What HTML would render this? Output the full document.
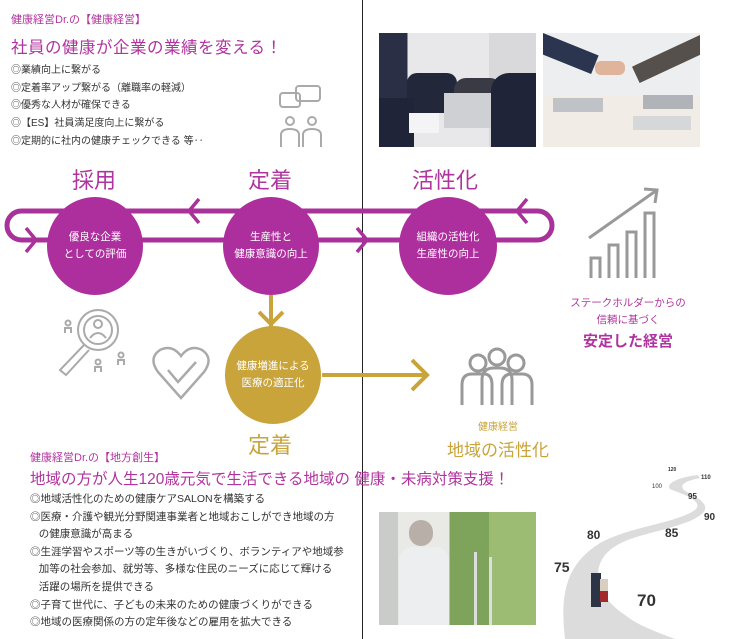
<!DOCTYPE html>
<html><head><meta charset="utf-8"><style>
*{margin:0;padding:0;box-sizing:border-box}
body{width:732px;height:639px;background:#fff;position:relative;overflow:hidden;font-family:"Liberation Sans","Noto Sans CJK JP",sans-serif}
.a{position:absolute;white-space:nowrap}
.p{color:#b0349f}
.g{color:#c9a43a}
.li{font-size:10px;color:#333;line-height:17.7px}
.li2{font-size:10.5px;color:#333;line-height:17.6px}
</style></head><body>
<div class="a" style="left:362px;top:0;width:1px;height:639px;background:#222"></div>

<div class="a p" style="left:11px;top:11px;font-size:11px">健康経営Dr.の【健康経営】</div>
<div class="a p" style="left:11px;top:34px;font-size:16.5px;letter-spacing:0.5px">社員の健康が企業の業績を変える！</div>
<div class="a li" style="left:11px;top:62px">◎業績向上に繋がる<br>◎定着率アップ繋がる（離職率の軽減）<br>◎優秀な人材が確保できる<br>◎【ES】社員満足度向上に繋がる<br>◎定期的に社内の健康チェックできる 等‥</div>

<!-- photos -->
<div class="a" style="left:379px;top:33px;width:157px;height:114px;background:linear-gradient(90deg,#2a2f45 0 18%,#e8e8ea 18% 70%,#d9d9dc 70%);overflow:hidden">
 <div class="a" style="left:28px;top:40px;width:50px;height:40px;background:#23273a;border-radius:10px 10px 0 0"></div>
 <div class="a" style="left:75px;top:45px;width:48px;height:45px;background:#3a3a44;border-radius:12px 12px 0 0"></div>
 <div class="a" style="left:65px;top:60px;width:55px;height:35px;background:#cfd0d4"></div>
 <div class="a" style="left:112px;top:40px;width:45px;height:74px;background:#1f2438;border-radius:18px 0 0 0"></div>
 <div class="a" style="left:0;top:65px;width:35px;height:49px;background:#1f2438"></div>
 <div class="a" style="left:30px;top:80px;width:30px;height:20px;background:#f4f4f6"></div>
</div>
<div class="a" style="left:543px;top:33px;width:157px;height:114px;background:linear-gradient(180deg,#eceeef 0 55%,#f1ede6 55%);overflow:hidden">
 <div class="a" style="left:0;top:0;width:60px;height:20px;background:#2c3550;transform:rotate(22deg);transform-origin:0 0"></div>
 <div class="a" style="left:82px;top:2px;width:75px;height:18px;background:#55504c;transform:rotate(-25deg);transform-origin:100% 0"></div>
 <div class="a" style="left:52px;top:28px;width:30px;height:14px;background:#e0b49a;border-radius:6px"></div>
 <div class="a" style="left:10px;top:65px;width:50px;height:14px;background:#bfc3c7"></div>
 <div class="a" style="left:100px;top:62px;width:50px;height:14px;background:#b0b4b8"></div>
 <div class="a" style="left:90px;top:83px;width:58px;height:14px;background:#d6d7d9"></div>
</div>

<div class="a p" style="left:72px;top:163px;font-size:22px">採用</div>
<div class="a p" style="left:248px;top:163px;font-size:22px">定着</div>
<div class="a p" style="left:412px;top:163px;font-size:22px">活性化</div>

<svg class="a" style="left:0;top:0" width="732" height="639">
 <rect x="7" y="211" width="545" height="29" rx="14.5" fill="none" stroke="#a8329a" stroke-width="5"/>
 <g fill="none" stroke="#a8329a" stroke-width="3.5">
  <polyline points="199,199 189,211 199,223"/>
  <polyline points="527,199 517,211 527,223"/>
  <polyline points="26,228 36,240 26,252"/>
  <polyline points="357,228 367,240 357,252"/>
 </g>
 <ellipse cx="95" cy="246" rx="48" ry="49" fill="#ad2f9d"/>
 <ellipse cx="271" cy="246" rx="48" ry="49" fill="#ad2f9d"/>
 <ellipse cx="448" cy="246" rx="49" ry="49" fill="#ad2f9d"/>
 <g stroke="#c9a43a" stroke-width="4" fill="none">
  <line x1="271" y1="295" x2="271" y2="327"/>
  <polyline points="259,312 271,324 283,312"/>
  <line x1="322" y1="375" x2="428" y2="375"/>
  <polyline points="412,360 427,375 412,390"/>
 </g>
 <ellipse cx="273" cy="375" rx="48" ry="49" fill="#c9a43a"/>
 <!-- chart icon -->
 <g stroke="#999" stroke-width="3" fill="none">
  <line x1="589" y1="238" x2="657" y2="190"/><polyline points="644,189 657,190 655,203"/>
  <path d="M591,278 V258 H600 V278 M609,278 V245 H618 V278 M627,278 V232 H636 V278 M645,278 V213 H654 V278"/>
 </g>
 <!-- people icon -->
 <g stroke="#999" stroke-width="3" fill="none">
  <circle cx="478" cy="363" r="8"/><circle cx="497" cy="357" r="8"/><circle cx="516" cy="363" r="8"/>
  <path d="M462,405 V385 Q462,374 472,374 H484 Q492,374 492,385 V405"/>
  <path d="M482,405 V380 Q482,368 494,368 H500 Q512,368 512,380 V405"/>
  <path d="M502,405 V385 Q502,374 512,374 H522 Q532,374 532,385 V405"/>
 </g>
 <!-- chat people icon top -->
 <g stroke="#aaa" stroke-width="2" fill="none">
  <rect x="280" y="93" width="20" height="14" rx="3"/><rect x="296" y="86" width="24" height="15" rx="3"/>
  <circle cx="290" cy="121" r="4"/><circle cx="312" cy="121" r="4"/>
  <path d="M281,147 V135 Q281,129 290,129 Q299,129 299,135 V147 M303,147 V135 Q303,129 312,129 Q321,129 321,135 V147"/>
 </g>
 <!-- search icon -->
 <g stroke="#aaa" stroke-width="2" fill="none">
  <circle cx="98" cy="330" r="20"/><circle cx="98" cy="330" r="14"/>
  <circle cx="98" cy="324" r="4"/><path d="M90,338 Q98,328 106,338"/>
  <path d="M84,345 L60,370 L66,375 L89,350"/>
  <circle cx="68" cy="323" r="2.5"/><path d="M65,333 V328 H71 V333"/>
  <circle cx="98" cy="362" r="2.5"/><path d="M95,372 V367 H101 V372"/>
  <circle cx="121" cy="355" r="2.5"/><path d="M118,365 V360 H124 V365"/>
 </g>
 <!-- heart icon -->
 <g stroke="#aaa" stroke-width="2.5" fill="none">
  <path d="M181,398 L158,372 Q148,358 160,350 Q172,344 181,356 Q190,344 202,350 Q214,358 204,372 Z"/>
  <polyline points="168,370 178,382 196,362"/>
 </g>
 <!-- road -->
 <g transform="translate(540,455)">
  <path d="M25,184 C20,140 25,110 60,88 C90,72 125,70 150,58 C170,48 145,40 130,34 C125,28 140,22 158,20 L160,23 C145,26 138,30 145,36 C170,48 172,56 150,66 C120,78 88,80 70,95 C50,112 55,140 85,160 C100,172 120,178 135,184 Z" fill="#dcdcdc"/>
  <rect x="51" y="118" width="10" height="34" fill="#2d3446"/>
  <rect x="60" y="125" width="8" height="22" fill="#a32a2a"/>
  <rect x="60" y="124" width="8" height="12" fill="#d8cfbf"/>
  <text x="14" y="117" font-size="14" font-weight="bold" fill="#333" font-family="Liberation Sans">75</text>
  <text x="47" y="84" font-size="12" font-weight="bold" fill="#333" font-family="Liberation Sans">80</text>
  <text x="125" y="82" font-size="12" font-weight="bold" fill="#333" font-family="Liberation Sans">85</text>
  <text x="164" y="65" font-size="10" font-weight="bold" fill="#333" font-family="Liberation Sans">90</text>
  <text x="148" y="44" font-size="8" font-weight="bold" fill="#333" font-family="Liberation Sans">95</text>
  <text x="112" y="33" font-size="6" fill="#333" font-family="Liberation Sans">100</text>
  <text x="161" y="24" font-size="6" font-weight="bold" fill="#333" font-family="Liberation Sans">110</text>
  <text x="128" y="16" font-size="5" font-weight="bold" fill="#333" font-family="Liberation Sans">120</text>
  <text x="97" y="151" font-size="17" font-weight="bold" fill="#333" font-family="Liberation Sans">70</text>
 </g>
</svg>

<div class="a" style="left:47px;top:229px;width:96px;text-align:center;color:#fff;font-size:10.5px;line-height:17px">優良な企業<br>としての評価</div>
<div class="a" style="left:223px;top:229px;width:96px;text-align:center;color:#fff;font-size:10.5px;line-height:17px">生産性と<br>健康意識の向上</div>
<div class="a" style="left:400px;top:229px;width:96px;text-align:center;color:#fff;font-size:10.5px;line-height:17px">組織の活性化<br>生産性の向上</div>
<div class="a" style="left:225px;top:358px;width:96px;text-align:center;color:#fff;font-size:10.5px;line-height:17px">健康増進による<br>医療の適正化</div>

<div class="a p" style="left:558px;top:295px;width:140px;text-align:center;font-size:10.5px;line-height:17px">ステークホルダーからの<br>信頼に基づく</div>
<div class="a p" style="left:558px;top:330px;width:140px;text-align:center;font-size:15px;font-weight:bold">安定した経営</div>

<div class="a g" style="left:248px;top:428px;font-size:22px">定着</div>
<div class="a g" style="left:448px;top:418px;width:100px;text-align:center;font-size:10px">健康経営</div>
<div class="a g" style="left:438px;top:436px;width:120px;text-align:center;font-size:17px">地域の活性化</div>

<div class="a p" style="left:30px;top:449px;font-size:11px">健康経営Dr.の【地方創生】</div>
<div class="a p" style="left:30px;top:467px;font-size:15.5px">地域の方が人生120歳元気で生活できる地域の 健康・未病対策支援！</div>
<div class="a li2" style="left:30px;top:491px">◎地域活性化のための健康ケアSALONを構築する<br>◎医療・介護や観光分野関連事業者と地域おこしができ地域の方<br>&nbsp;&nbsp;&nbsp;の健康意識が高まる<br>◎生涯学習やスポーツ等の生きがいづくり、ボランティアや地域参<br>&nbsp;&nbsp;&nbsp;加等の社会参加、就労等、多様な住民のニーズに応じて輝ける<br>&nbsp;&nbsp;&nbsp;活躍の場所を提供できる<br>◎子育て世代に、子どもの未来のための健康づくりができる<br>◎地域の医療関係の方の定年後などの雇用を拡大できる</div>

<div class="a" style="left:379px;top:512px;width:157px;height:113px;background:linear-gradient(90deg,#c9ccc8 0 12%,#e9eae6 12% 45%,#7ea35a 45% 70%,#9cbc74 70%);overflow:hidden">
 <div class="a" style="left:30px;top:8px;width:24px;height:26px;background:#b8b0a8;border-radius:12px"></div>
 <div class="a" style="left:20px;top:35px;width:50px;height:78px;background:#eceef0;border-radius:14px 14px 0 0"></div>
 <div class="a" style="left:95px;top:40px;width:3px;height:73px;background:#ddd"></div>
 <div class="a" style="left:110px;top:45px;width:3px;height:68px;background:#ddd"></div>
</div>
</body></html>
